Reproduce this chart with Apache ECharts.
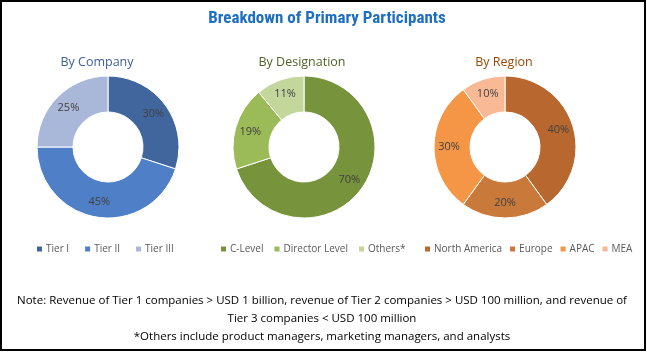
<!DOCTYPE html>
<html lang="en">
<head>
    <meta charset="UTF-8">
    <title>Breakdown of Primary Participants</title>
    <script src="https://cdn.jsdelivr.net/npm/echarts@6/dist/echarts.min.js"></script>
    <style>
        html, body { margin: 0; padding: 0; background: #fff; }
        #main { width: 647px; height: 352px; }
    </style>
</head>
<body>
<div id="main"></div>
<script type="text/javascript">
    // data
    const company_names = ["Tier I", "Tier II", "Tier III"];
    const company_values = [30, 45, 25];
    const company_colors = ["#41669d", "#4f7fc6", "#a9b8d9"];

    const designation_names = ["C-Level", "Director Level", "Others*"];
    const designation_values = [70, 19, 11];
    const designation_colors = ["#77933c", "#9bbb59", "#c3d69b"];

    const region_names = ["North America", "Europe", "APAC", "MEA"];
    const region_values = [40, 20, 30, 10];
    const region_colors = ["#b8682f", "#c9793a", "#f59646", "#f8b994"];

    const note_lines = [
        "Note: Revenue of Tier 1 companies > USD 1 billion, revenue of Tier 2 companies > USD 100 million, and revenue of",
        "Tier 3 companies < USD 100 million",
        "*Others include product managers, marketing managers, and analysts"
    ];

    const text_font = "'Open Sans', 'Noto Sans', sans-serif";

    function to_data(names, values, colors) {
        return names.map((n, i) => ({ name: n, value: values[i], itemStyle: { color: colors[i] } }));
    }

    function make_pie(name, cx, data) {
        return {
            name: name,
            type: 'pie',
            center: [cx, 147],
            radius: [35, 71],
            startAngle: 90,
            clockwise: true,
            animation: false,
            itemStyle: { borderColor: '#fff', borderWidth: 1 },
            label: {
                show: true,
                position: 'inside',
                formatter: '{c}%',
                color: '#404040',
                fontSize: 11,
                fontFamily: text_font
            },
            labelLine: { show: false },
            emphasis: { disabled: true },
            data: data
        };
    }

    function make_legend(names, left, gap) {
        return {
            data: names,
            left: left,
            top: 239,
            width: 260,
            orient: 'horizontal',
            itemWidth: 7,
            itemHeight: 7,
            itemGap: gap,
            icon: 'rect',
            textStyle: { color: '#595959', fontSize: 10, fontFamily: text_font, padding: [0, 0, 0, -2] }
        };
    }

    const chart = echarts.init(document.getElementById("main"));
    chart.setOption({
        animation: false,
        title: [
            {
                text: "Breakdown of Primary Participants",
                left: 322, top: 5, textAlign: 'center',
                textStyle: { color: '#1f6fc0', fontSize: 17, fontWeight: 'bold', fontFamily: "'Liberation Sans Narrow', 'Roboto Condensed', 'Liberation Sans', sans-serif" }
            },
            { text: "By Company", left: 92, top: 51, textAlign: 'center', textStyle: { color: '#3e5f94', fontSize: 12.5, fontWeight: 'normal', fontFamily: text_font } },
            { text: "By Designation", left: 297, top: 51, textAlign: 'center', textStyle: { color: '#4f6228', fontSize: 12.5, fontWeight: 'normal', fontFamily: text_font } },
            { text: "By Region", left: 499, top: 51, textAlign: 'center', textStyle: { color: '#984807', fontSize: 12.5, fontWeight: 'normal', fontFamily: text_font } }
        ],
        legend: [
            make_legend(company_names, 30, 14),
            make_legend(designation_names, 214, 9),
            make_legend(region_names, 418, 6)
        ],
        series: [
            make_pie("By Company", 108, to_data(company_names, company_values, company_colors)),
            make_pie("By Designation", 304, to_data(designation_names, designation_values, designation_colors)),
            make_pie("By Region", 505, to_data(region_names, region_values, region_colors))
        ],
        graphic: [
            {
                type: 'rect',
                shape: { x: 1, y: 1, width: 644, height: 349 },
                style: { fill: 'none', stroke: '#000', lineWidth: 2 },
                silent: true
            }
        ].concat(note_lines.map((t, i) => ({
            type: 'text',
            x: 322, y: 301 + i * 18,
            style: {
                text: t, fill: '#000', font: "11.5px " + text_font,
                textAlign: 'center', textVerticalAlign: 'middle'
            },
            silent: true
        })))
    });
</script>
</body>
</html>
